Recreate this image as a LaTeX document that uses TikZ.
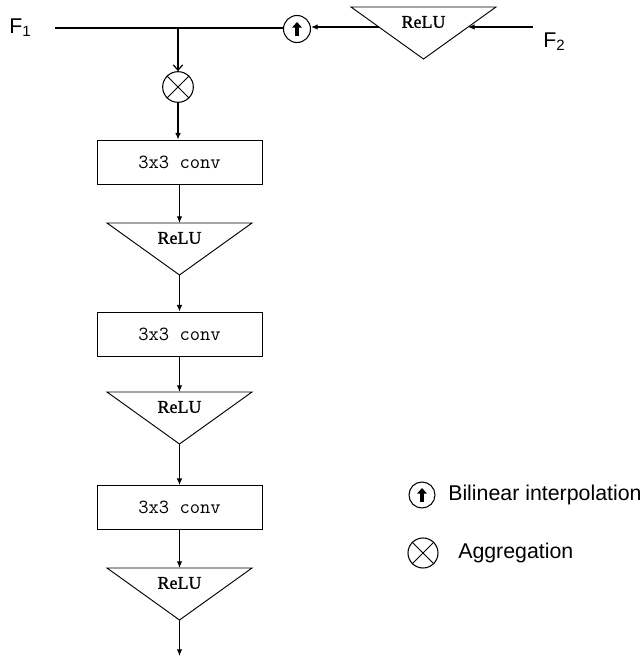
\documentclass[tikz,border=0pt]{standalone}
\usepackage{fontspec}
\setmainfont{Liberation Sans}
\newfontfamily\reluface[FakeBold=1.3]{Liberation Serif}
\usetikzlibrary{arrows.meta,calc}
\begin{document}
\begin{tikzpicture}[x=0.75pt,y=-0.75pt,
  conn/.style={line width=0.9pt,-{Latex[length=5pt,width=4.2pt]}},
  plainline/.style={line width=0.9pt},
  convbox/.style={draw,line width=0.6pt,minimum width=123.75pt,minimum height=33pt,inner sep=0pt,
    font=\fontsize{15}{17}\ttfamily},
  relutri/.style={draw,line width=0.7pt,line join=miter},
  relutext/.style={font=\fontsize{13.5}{15}\reluface,inner sep=0pt},
  opcircle/.style={draw,circle,line width=0.8pt,inner sep=0pt},
  lbl/.style={font=\fontsize{16}{18}\selectfont,inner sep=0pt},
  upsign/.style={line width=2.6pt,-{Triangle[length=4.2pt,width=7.2pt]}}]
\useasboundingbox (0,0) rectangle (643,657);

% --- helper for the downward-pointing ReLU triangles
\newcommand\relutriangle[3]{% #1 centre x, #2 top y, #3 name
  \coordinate (#3-nw) at (#1-72.5,#2);
  \coordinate (#3-ne) at (#1+72.5,#2);
  \coordinate (#3-top) at (#1,#2);
  \coordinate (#3-apex) at (#1,#2+52);
  \draw[relutri] (#3-nw) -- (#3-ne) -- (#3-apex) -- cycle;
  \node[relutext] (#3-txt) at (#1,#2+15) {ReLU};
}

% --- inputs
\node[lbl,anchor=base west] (F1) at (9,33) {F\textsubscript{1}};
\node[lbl,anchor=base west] (F2) at (543,47) {F\textsubscript{2}};

% --- upsampling branch from F2
\relutriangle{423.5}{7}{r0}
\node[opcircle,minimum size=20.25pt] (up) at (297,29) {};
\draw[upsign] ($(up.center)+(0,7)$) -- ($(up.center)+(0,-7)$);

\coordinate (f2in) at (533,27);
\coordinate (r0r) at (468,27);
\coordinate (r0l) at (379,27);
\draw[conn] (f2in) -- (r0r);
\draw[conn] (r0l) -- (up.east |- r0l);

% --- F1 trunk and aggregation
\coordinate (f1start) at (55,28);
\coordinate (split) at (178,28);
\draw[plainline] (f1start) -- (up.west |- f1start);
\node[opcircle,minimum size=23pt] (agg) at (178,87) {};
\draw[line width=0.7pt] (agg.45) -- (agg.225) (agg.135) -- (agg.315);
\draw[line width=0.9pt,-{Straight Barb[length=4pt,width=7pt]}] (split) -- (agg.north);

% --- conv / ReLU stack
\node[convbox] (c1) at (179.5,162) {3x3 conv};
\relutriangle{179.5}{223}{r1}
\node[convbox] (c2) at (179.5,334) {3x3 conv};
\relutriangle{179.5}{392}{r2}
\node[convbox] (c3) at (179.5,507.5) {3x3 conv};
\relutriangle{179.5}{568}{r3}
\coordinate (out) at (179.5,656);

\draw[conn] (agg.south) -- (agg.south |- c1.north);
\draw[conn] (c1.south) -- (r1-top);
\draw[conn] (r1-apex) -- (c2.north);
\draw[conn] (c2.south) -- (r2-top);
\draw[conn] (r2-apex) -- (c3.north);
\draw[conn] (c3.south) -- (r3-top);
\draw[conn] (r3-apex) -- (out);

% --- legend
\node[opcircle,minimum size=19.5pt] (lgup) at (422,495) {};
\draw[upsign] ($(lgup.center)+(0,7)$) -- ($(lgup.center)+(0,-7)$);
\node[lbl,anchor=west] (lgupt) at (448,495) {Bilinear interpolation};
\node[opcircle,minimum size=22.5pt] (lgagg) at (423,553) {};
\draw[line width=0.7pt] (lgagg.45) -- (lgagg.225) (lgagg.135) -- (lgagg.315);
\node[lbl,anchor=west] (lgaggt) at (458,553) {Aggregation};
\end{tikzpicture}
\end{document}
